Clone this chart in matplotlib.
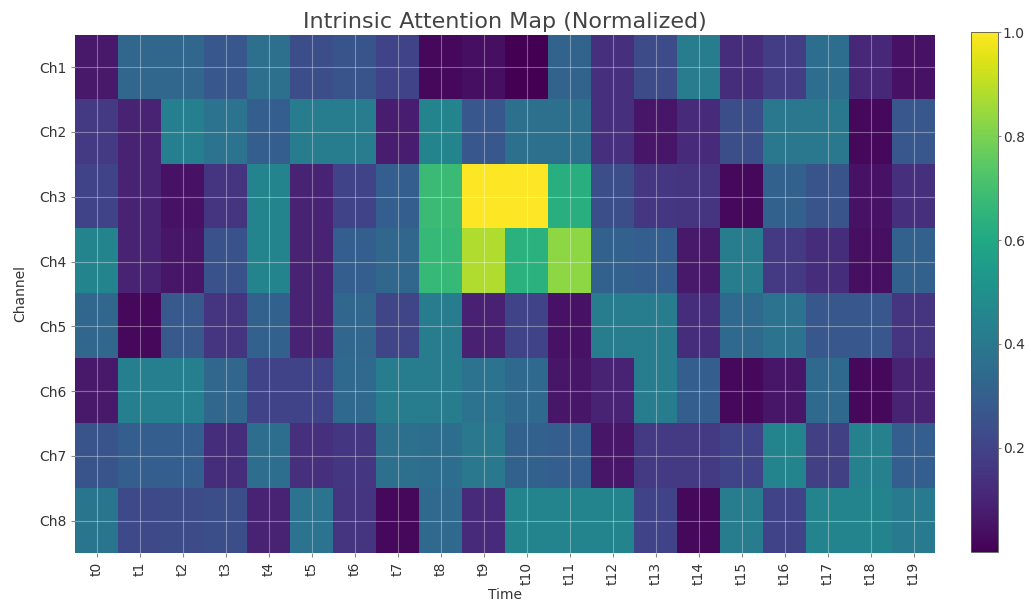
import numpy as np
import matplotlib
matplotlib.use("Agg")
from matplotlib import pyplot as plt

# channel / time labels
channels = ["Ch1", "Ch2", "Ch3", "Ch4", "Ch5", "Ch6", "Ch7", "Ch8"]
times = ["t" + str(i) for i in range(20)]

# normalized attention values, one list per channel
ch1 = [0.07, 0.33, 0.33, 0.27, 0.37, 0.24, 0.26, 0.20, 0.02, 0.04, 0.00, 0.32, 0.14, 0.23, 0.42, 0.13, 0.18, 0.36, 0.11, 0.05]
ch2 = [0.17, 0.10, 0.43, 0.38, 0.30, 0.42, 0.42, 0.08, 0.45, 0.27, 0.37, 0.37, 0.14, 0.06, 0.12, 0.24, 0.40, 0.40, 0.02, 0.27]
ch3 = [0.20, 0.10, 0.05, 0.15, 0.45, 0.10, 0.20, 0.30, 0.68, 1.00, 1.00, 0.63, 0.24, 0.16, 0.15, 0.02, 0.31, 0.26, 0.05, 0.14]
ch4 = [0.45, 0.10, 0.06, 0.25, 0.45, 0.10, 0.30, 0.33, 0.67, 0.88, 0.64, 0.83, 0.31, 0.30, 0.07, 0.42, 0.17, 0.13, 0.04, 0.31]
ch5 = [0.33, 0.02, 0.28, 0.15, 0.31, 0.10, 0.33, 0.21, 0.42, 0.09, 0.20, 0.05, 0.42, 0.42, 0.13, 0.34, 0.38, 0.27, 0.27, 0.15]
ch6 = [0.07, 0.43, 0.43, 0.33, 0.20, 0.20, 0.34, 0.42, 0.42, 0.38, 0.34, 0.06, 0.10, 0.42, 0.30, 0.02, 0.06, 0.34, 0.02, 0.10]
ch7 = [0.26, 0.30, 0.30, 0.13, 0.36, 0.14, 0.16, 0.37, 0.36, 0.40, 0.31, 0.30, 0.06, 0.17, 0.17, 0.20, 0.45, 0.19, 0.44, 0.30]
ch8 = [0.39, 0.22, 0.23, 0.24, 0.10, 0.38, 0.15, 0.02, 0.34, 0.12, 0.45, 0.45, 0.45, 0.20, 0.02, 0.42, 0.20, 0.45, 0.45, 0.41]

attention = np.array([ch1, ch2, ch3, ch4, ch5, ch6, ch7, ch8])

fig = plt.figure(figsize=(10.31, 6.11), dpi=100)
ax = fig.add_axes([0.073, 0.095, 0.834, 0.848])
cax = fig.add_axes([0.942, 0.097, 0.026, 0.85])

im = ax.imshow(attention, cmap="viridis", aspect="auto", vmin=0, vmax=1)

ax.set_xticks(np.arange(len(times)))
ax.set_xticklabels(times, rotation=90, fontsize=10, color="#333333")
ax.set_yticks(np.arange(len(channels)))
ax.set_yticklabels(channels, fontsize=10, color="#333333")
ax.tick_params(length=3, color="#888888")
ax.grid(True, color="white", alpha=0.35, linewidth=0.8)
for s in ax.spines.values():
    s.set_visible(False)

ax.set_title("Intrinsic Attention Map (Normalized)", fontsize=16, color="#444444", pad=5)
ax.set_xlabel("Time", fontsize=10, color="#333333", labelpad=2)
ax.set_ylabel("Channel", fontsize=10, color="#333333", labelpad=8)

cb = fig.colorbar(im, cax=cax)
cb.set_ticks([0.2, 0.4, 0.6, 0.8, 1.0])
cb.ax.tick_params(labelsize=10, labelcolor="#333333", length=2, pad=1.5, color="#888888")
cb.outline.set_edgecolor("#555555")
cb.outline.set_linewidth(0.6)

plt.savefig("out.png", dpi=100)
plt.close()
